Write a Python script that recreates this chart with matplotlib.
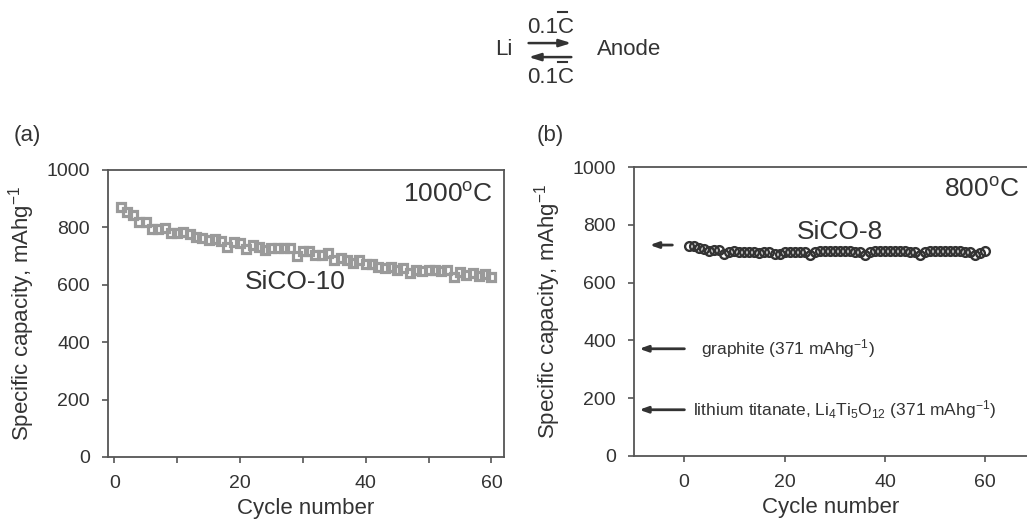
import matplotlib
matplotlib.use("Agg")
import matplotlib.pyplot as plt
from matplotlib.lines import Line2D
from matplotlib.patches import FancyArrowPatch

plt.rcParams["font.family"] = ["Liberation Sans", "DejaVu Sans"]
plt.rcParams["mathtext.fontset"] = "custom"
plt.rcParams["mathtext.rm"] = "Liberation Sans"
plt.rcParams["mathtext.it"] = "Liberation Sans:italic"
plt.rcParams["mathtext.bf"] = "Liberation Sans:bold"
plt.rcParams["mathtext.default"] = "regular"

TEXT = "#333333"
SPINE = "#555555"

cycles = list(range(1, 61))

# SiCO-10 (1000 C) discharge capacity per cycle
sico10 = [872, 852, 843, 820, 820, 794, 794, 797, 781, 779,
          785, 777, 767, 762, 756, 758, 753, 733, 748, 744,
          723, 738, 730, 721, 729, 729, 729, 729, 701, 719,
          717, 703, 703, 709, 686, 692, 686, 677, 686, 672,
          674, 663, 657, 663, 651, 660, 642, 653, 649, 651,
          653, 649, 651, 628, 645, 634, 642, 630, 636, 628]

# SiCO-8 (800 C) discharge capacity per cycle
sico8 = [725, 725, 720, 715, 710, 712, 712, 698, 705, 708,
         705, 705, 707, 705, 703, 705, 707, 698, 700, 707,
         707, 706, 706, 706, 695, 707, 709, 709, 709, 709,
         709, 709, 708, 707, 705, 695, 707, 710, 709, 709,
         709, 709, 708, 708, 707, 706, 696, 705, 710, 709,
         709, 709, 709, 708, 708, 707, 706, 695, 703, 708]

# reference capacity arrows on panel (b)
ref_levels = [730, 371, 160]
ref_labels = ["", "graphite (371 mAhg$^{-1}$)",
              "lithium titanate, Li$_4$Ti$_5$O$_{12}$ (371 mAhg$^{-1}$)"]

ylabel = "Specific capacity, mAhg$^{-1}$"


def style_axes(ax):
    for side in ["left", "bottom", "top", "right"]:
        ax.spines[side].set_color(SPINE)
        ax.spines[side].set_linewidth(1.3)
    ax.tick_params(direction="out", length=4, width=1.2, color=SPINE,
                   labelsize=14, labelcolor=TEXT, pad=9)
    ax.set_ylim(0, 1000)
    ax.set_yticks(range(0, 1001, 200))
    ax.set_xlabel("Cycle number", fontsize=16, color=TEXT, labelpad=4)
    ax.set_ylabel(ylabel, fontsize=16, color=TEXT, labelpad=7)


fig = plt.figure(figsize=(10.27, 5.19), dpi=100)

# panel (a)
ax1 = fig.add_axes([0.1052, 0.1195, 0.3856, 0.553])
ax1.plot(cycles, sico10, linestyle="none", marker="s", markersize=6.3,
         markerfacecolor="none", markeredgecolor="#9a9a9a", markeredgewidth=2.3)
style_axes(ax1)
ax1.set_xlim(-1, 62)
ax1.set_xticks(range(0, 61, 10))
ax1.set_xticklabels(["0", "", "20", "", "40", "", "60"])
ax1.text(60.2, 913, "1000$^{o}$C", fontsize=19, color=TEXT, ha="right", va="center")
ax1.text(20.8, 610, "SiCO-10", fontsize=19, color=TEXT, ha="left", va="center")
fig.text(0.013, 0.738, "(a)", fontsize=16, color=TEXT, va="center")

# panel (b)
ax2 = fig.add_axes([0.6173, 0.1214, 0.3827, 0.5568])
ax2.plot(cycles, sico8, linestyle="none", marker="o", markersize=6.3,
         markerfacecolor="none", markeredgecolor="#333333", markeredgewidth=1.7)
style_axes(ax2)
ax2.spines["right"].set_visible(False)
ax2.set_xlim(-10, 68.3)
ax2.set_xticks(range(0, 61, 20))
ax2.text(66.8, 920, "800$^{o}$C", fontsize=19, color=TEXT, ha="right", va="center")
ax2.text(22.5, 775, "SiCO-8", fontsize=19, color=TEXT, ha="left", va="center")
fig.text(0.523, 0.738, "(b)", fontsize=16, color=TEXT, va="center")

arrow_spans = [(-1.8, -7.4), (0.6, -9.5), (0.6, -9.5)]
label_x = [0, 3.4, 1.8]
for lvl, lab, (x0, x1), lx in zip(ref_levels, ref_labels, arrow_spans, label_x):
    ax2.annotate("", xy=(x1, lvl), xytext=(x0, lvl),
                 arrowprops=dict(arrowstyle="-|>,head_length=0.5,head_width=0.18",
                                 color=TEXT, lw=2))
    if lab:
        ax2.text(lx, lvl, lab, fontsize=12.5, color=TEXT, ha="left", va="center")

# reaction scheme at the top: Li <=> Anode at 0.1C
fig.text(0.4995, 0.894, "Li", fontsize=16, color=TEXT, ha="right", va="baseline")
fig.text(0.5813, 0.894, "Anode", fontsize=16, color=TEXT, ha="left", va="baseline")
for base_y, bar_y in [(0.9364, 0.977), (0.840, 0.881)]:
    fig.text(0.513, base_y, "0.1C", fontsize=16, color=TEXT,
             ha="left", va="baseline")
    fig.add_artist(Line2D([0.5435, 0.5525], [bar_y, bar_y],
                          transform=fig.transFigure, color=TEXT, lw=1.5))
fig.add_artist(FancyArrowPatch(
    (0.512, 0.917), (0.559, 0.917), transform=fig.transFigure,
    arrowstyle="-|>,head_length=7,head_width=2.2", color=TEXT, lw=1.8))
fig.add_artist(FancyArrowPatch(
    (0.559, 0.890), (0.512, 0.890), transform=fig.transFigure,
    arrowstyle="-|>,head_length=7,head_width=2.2", color=TEXT, lw=1.8))

fig.savefig("out.png", dpi=100)
